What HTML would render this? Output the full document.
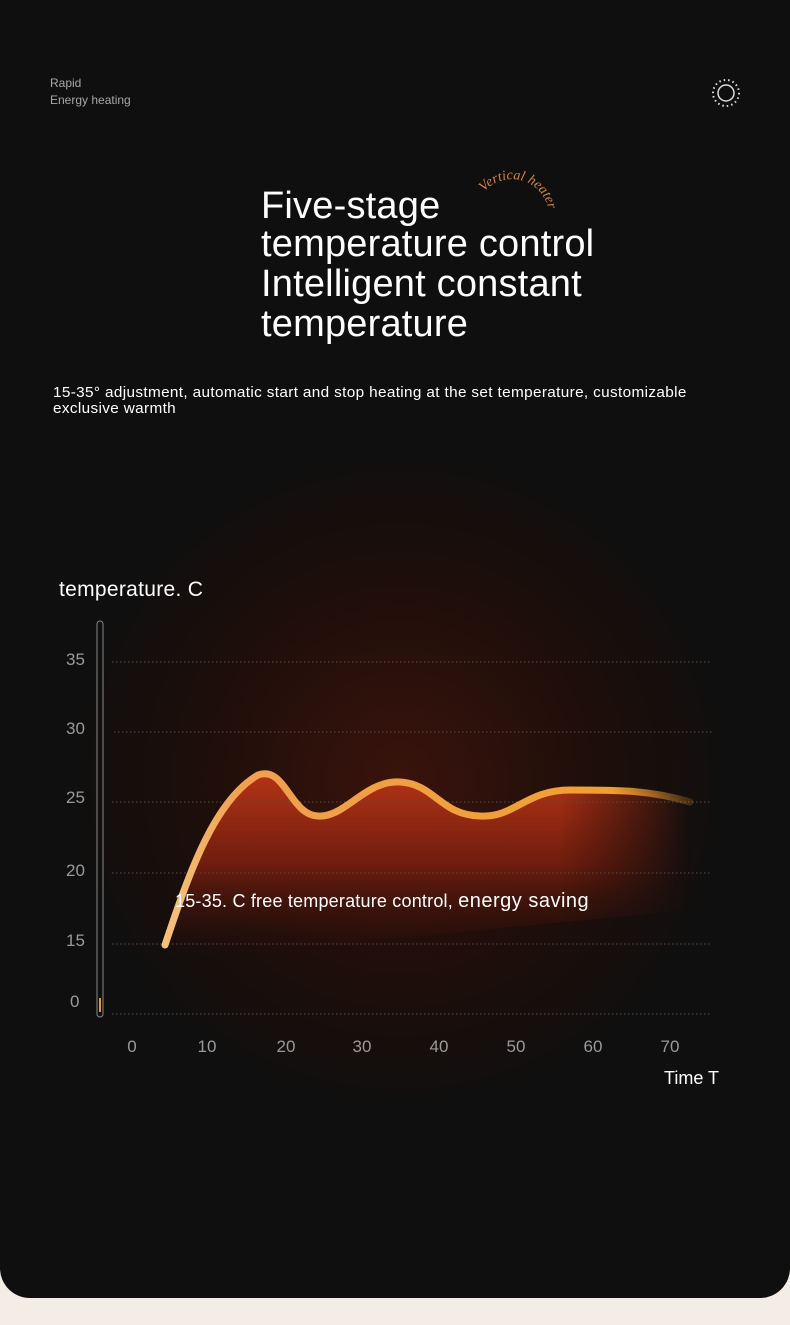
<!DOCTYPE html>
<html><head><meta charset="utf-8"><style>
html,body{margin:0;padding:0;background:#f4ede6;}
body{width:790px;height:1325px;position:relative;overflow:hidden;font-family:"Liberation Sans",sans-serif;}
.card{position:absolute;left:0;top:0;width:790px;height:1298px;background:#0f0f0f;border-radius:0 0 30px 30px;overflow:hidden;}
.t{position:absolute;color:#fff;white-space:nowrap;}
</style></head><body>
<div class="card">
<div class="t" style="left:50px;top:75px;font-size:12px;color:#a8a8a8;line-height:17px;">Rapid<br>Energy heating</div>
<svg style="position:absolute;left:710px;top:78px" width="32" height="32">
<circle cx="16" cy="15" r="8" fill="none" stroke="#ddd" stroke-width="1.5"/>
<circle cx="16" cy="15" r="13" fill="none" stroke="#ddd" stroke-width="2" stroke-dasharray="1.5 3"/>
</svg>
<div class="t" style="left:261px;top:187px;font-size:38px;line-height:38px;letter-spacing:0.2px;">Five-stage<br>temperature control<br><span style="line-height:42px">Intelligent constant</span><br>temperature</div>
<svg style="position:absolute;left:470px;top:160px" width="100" height="100">
<defs><path id="arc" d="M14,32 A34,34 0 0 1 70,80"/></defs>
<text font-family="Liberation Serif,serif" font-style="italic" font-size="14" fill="#d9843a"><textPath href="#arc">Vertical heater</textPath></text>
</svg>
<div class="t" style="left:53px;top:385px;font-size:15px;line-height:16px;letter-spacing:0.35px;transform:scaleX(1.02);transform-origin:left;">15-35° adjustment, automatic start and stop heating at the set temperature, customizable<br>exclusive warmth</div>
<svg style="position:absolute;left:0;top:440px" width="790" height="700">
<defs>
<radialGradient id="glow" cx="400" cy="340" r="330" gradientUnits="userSpaceOnUse">
<stop offset="0" stop-color="#3a130c"/><stop offset="0.6" stop-color="#1e0e0a"/><stop offset="1" stop-color="#0f0f0f"/></radialGradient>
<linearGradient id="fill" x1="0" y1="330" x2="0" y2="520" gradientUnits="userSpaceOnUse">
<stop offset="0" stop-color="#b83416"/><stop offset="0.5" stop-color="#6e1d0e"/><stop offset="1" stop-color="#2a0f0a" stop-opacity="0"/></linearGradient>
<linearGradient id="line" x1="165" y1="0" x2="690" y2="0" gradientUnits="userSpaceOnUse">
<stop offset="0" stop-color="#f4c27a"/><stop offset="0.15" stop-color="#f0a050"/><stop offset="0.85" stop-color="#f0a030"/><stop offset="1" stop-color="#f0a030" stop-opacity="0.2"/></linearGradient>
<linearGradient id="mg" x1="560" y1="0" x2="690" y2="0" gradientUnits="userSpaceOnUse">
<stop offset="0" stop-color="#fff"/><stop offset="1" stop-color="#000"/></linearGradient>
<mask id="m"><rect x="0" y="0" width="790" height="700" fill="url(#mg)"/></mask>
</defs>
<rect x="0" y="0" width="790" height="700" fill="url(#glow)"/>
<path mask="url(#m)" d="M165,505 C190,430 215,360 258,335 C285,325 290,375 318,376 C345,378 365,340 400,342 C435,344 440,375 480,376 C515,378 525,350 570,350 C620,350 650,350 690,362 L690,470 L165,520 Z" fill="url(#fill)"/>
<g stroke="#5a4a44" stroke-width="1" stroke-dasharray="1.5 2.5">
<line x1="112" y1="222" x2="712" y2="222"/><line x1="114" y1="292" x2="714" y2="292"/>
<line x1="112" y1="362" x2="712" y2="362"/><line x1="112" y1="433" x2="712" y2="433"/>
<line x1="112" y1="504" x2="712" y2="504"/><line x1="112" y1="574" x2="712" y2="574"/></g>
<path d="M165,505 C190,430 215,360 258,335 C285,325 290,375 318,376 C345,378 365,340 400,342 C435,344 440,375 480,376 C515,378 525,350 570,350 C620,350 650,350 690,362" fill="none" stroke="url(#line)" stroke-width="7" stroke-linecap="round"/>
<rect x="97" y="181" width="6" height="396" rx="3" fill="none" stroke="#8a8a8a" stroke-width="1"/>
<rect x="99" y="558" width="2" height="14" fill="#e09a3a"/>
<g fill="#9a9a9a" font-size="17" font-family="Liberation Sans,sans-serif">
<text x="66" y="225">35</text><text x="66" y="294">30</text><text x="66" y="363">25</text>
<text x="66" y="436">20</text><text x="66" y="506">15</text><text x="70" y="567">0</text>
<g text-anchor="middle"><text x="132" y="612">0</text><text x="207" y="612">10</text><text x="286" y="612">20</text><text x="362" y="612">30</text><text x="439" y="612">40</text><text x="516" y="612">50</text><text x="593" y="612">60</text><text x="670" y="612">70</text></g>
</g>
</svg>
<div class="t" style="left:59px;top:578px;font-size:21px;letter-spacing:0.3px;">temperature. C</div>
<div class="t" style="left:175px;top:890px;font-size:18px;letter-spacing:0.2px;">15-35. C free temperature control, <span style="font-size:20px;letter-spacing:0.5px">energy saving</span></div>
<div class="t" style="left:664px;top:1068px;font-size:18px;">Time T</div>
</div>
</body></html>
